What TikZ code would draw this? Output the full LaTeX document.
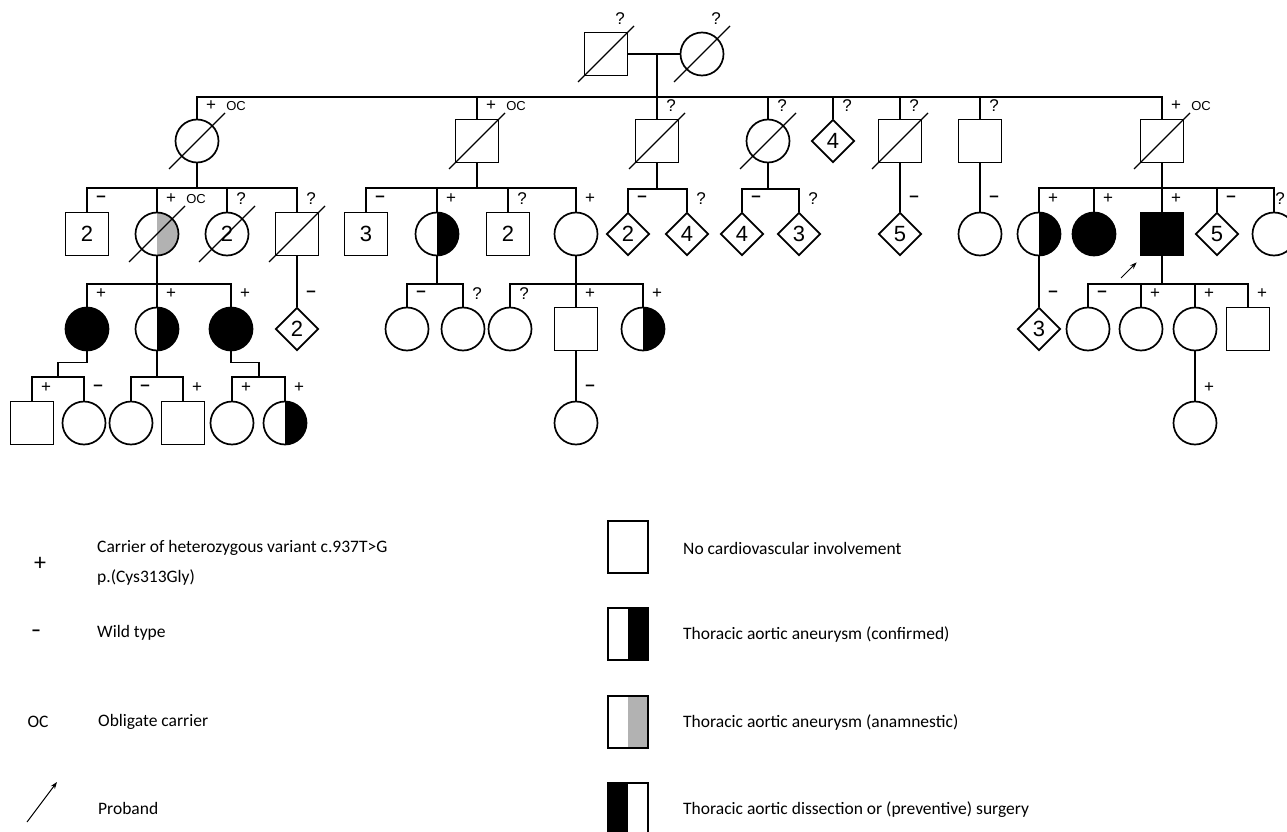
\documentclass[tikz,border=0pt]{standalone}
\usepackage{fontspec}
\setmainfont{Carlito}
\newfontfamily\pedfont{Liberation Sans}
\usetikzlibrary{shapes.geometric,arrows.meta}

\newcommand{\numfont}{\pedfont\fontsize{22}{22}\selectfont}
\newcommand{\tagfont}{\pedfont\fontsize{17}{17}\selectfont}
\newcommand{\ocfont}{\pedfont\fontsize{13}{13}\selectfont}
\newcommand{\wt}{\textbf{\textendash}}

\tikzset{
  person/.style={draw, line width=1.7pt, inner sep=0pt, minimum size=43pt, fill=white, font=\numfont},
  male/.style={person, rectangle},
  female/.style={person, circle},
  sexunk/.style={person, diamond},
  affected/.style={fill=black},
  tahalf/.style={path picture={\fill[black] (path picture bounding box.north) rectangle (path picture bounding box.south east);}},
  anahalf/.style={path picture={\fill[black!30] (path picture bounding box.north) rectangle (path picture bounding box.south east);}},
  dishalf/.style={path picture={\fill[black] (path picture bounding box.north west) rectangle (path picture bounding box.south);}},
  line/.style={line width=1.7pt},
  slash/.style={line width=1.2pt},
  tagtxt/.style={font=\tagfont, inner sep=0pt},
  octxt/.style={font=\ocfont, inner sep=0pt},
  keybox/.style={draw, line width=1.2pt, minimum width=40pt, minimum height=52pt, inner sep=0pt},
  keytxt/.style={anchor=west, inner sep=0pt, font=\fontsize{17.5}{21}\selectfont},
}

% deceased: slash through the symbol
\newcommand{\deceased}[1]{\draw[slash] ([shift={(-28,28)}]#1.center) -- ([shift={(28,-28)}]#1.center);}
% genotype above right of the symbol
\newcommand{\geno}[2]{\node[tagtxt] (#1t) at ([shift={(14,-13)}]#1.north) {#2};}
\newcommand{\obl}[1]{\node[octxt] (#1oc) at ([shift={(39,-13)}]#1.north) {OC};}

\begin{document}
\begin{tikzpicture}[x=1pt,y=-1pt]
\useasboundingbox (0,0) rectangle (1287,832);

% generation I
\node[male] (n1a) at (606,54) {};
\node[female] (n1b) at (702,54) {};
\draw[line] (n1a.east) -- (n1b.west);
\coordinate (c1) at (657,54);

% generation II
\node[female] (n2a) at (197,141) {};
\node[male] (n2b) at (477,141) {};
\node[male] (n2c) at (657,141) {};
\node[female] (n2d) at (768,141) {};
\node[sexunk] (n2e) at (833,141) {4};
\node[male] (n2f) at (900,141) {};
\node[male] (n2g) at (980,141) {};
\node[male] (n2h) at (1162,141) {};

\coordinate (s2) at (657,97);
\draw[line] (c1) -- (s2);
\draw[line] (n2a.north) |- (s2) -| (n2h.north);
\foreach \n in {b,c,d,e,f,g} \draw[line] (n2\n.north) -- (n2\n.north |- s2);

% generation III
\node[male] (n3a1) at (87,234) {2};
\node[female, anahalf] (n3a2) at (157,234) {};
\node[female] (n3a3) at (227,234) {2};
\node[male] (n3a4) at (297,234) {};

\node[male] (n3b1) at (366,234) {3};
\node[female, tahalf] (n3b2) at (437,234) {};
\node[male] (n3b3) at (508,234) {2};
\node[female] (n3b4) at (576,234) {};

\node[sexunk] (n3c1) at (628,234) {2};
\node[sexunk] (n3c2) at (687,234) {4};
\node[sexunk] (n3d1) at (742,234) {4};
\node[sexunk] (n3d2) at (799,234) {3};
\node[sexunk] (n3f1) at (900,234) {5};
\node[female] (n3g1) at (980,234) {};

\node[female, tahalf] (n3h1) at (1039,234) {};
\node[female, affected] (n3h2) at (1094,234) {};
\node[male, affected] (n3h3) at (1162,234) {};
\node[sexunk] (n3h4) at (1217,234) {5};
\node[female] (n3h5) at (1274,234) {};

\coordinate (s3a) at (197,188);
\draw[line] (n2a.south) -- (s3a);
\draw[line] (n3a1.north) |- (s3a) -| (n3a4.north);
\foreach \n in {2,3} \draw[line] (n3a\n.north) -- (n3a\n.north |- s3a);

\coordinate (s3b) at (477,188);
\draw[line] (n2b.south) -- (s3b);
\draw[line] (n3b1.north) |- (s3b) -| (n3b4.north);
\foreach \n in {2,3} \draw[line] (n3b\n.north) -- (n3b\n.north |- s3b);

\coordinate (s3c) at (657,189);
\draw[line] (n2c.south) -- (s3c);
\draw[line] (n3c1.north) |- (s3c) -| (n3c2.north);

\coordinate (s3d) at (768,189);
\draw[line] (n2d.south) -- (s3d);
\draw[line] (n3d1.north) |- (s3d) -| (n3d2.north);

\draw[line] (n2f.south) -- (n3f1.north);
\draw[line] (n2g.south) -- (n3g1.north);

\coordinate (s3h) at (1162,188);
\draw[line] (n2h.south) -- (s3h);
\draw[line] (n3h1.north) |- (s3h) -| (n3h5.north);
\foreach \n in {2,3,4} \draw[line] (n3h\n.north) -- (n3h\n.north |- s3h);

% generation IV
\node[female, affected] (n4a1) at (87,329) {};
\node[female, tahalf] (n4a2) at (157,329) {};
\node[female, affected] (n4a3) at (231,329) {};
\node[sexunk] (n4a4) at (297,329) {2};

\node[female] (n4b1) at (407,329) {};
\node[female] (n4b2) at (463,329) {};
\node[female] (n4b3) at (510,329) {};
\node[male] (n4b4) at (576,329) {};
\node[female, tahalf] (n4b5) at (643,329) {};

\node[sexunk] (n4h1) at (1039,329) {3};
\node[female] (n4h2) at (1088,329) {};
\node[female] (n4h3) at (1141,329) {};
\node[female] (n4h4) at (1195,329) {};
\node[male] (n4h5) at (1248,329) {};

\coordinate (s4a) at (157,284);
\draw[line] (n3a2.south) -- (s4a);
\draw[line] (n4a1.north) |- (s4a) -| (n4a3.north);
\draw[line] (n4a2.north) -- (s4a);
\draw[line] (n3a4.south) -- (n4a4.north);

\coordinate (s4b) at (437,284);
\draw[line] (n3b2.south) -- (s4b);
\draw[line] (n4b1.north) |- (s4b) -| (n4b2.north);

\coordinate (s4c) at (576,284);
\draw[line] (n3b4.south) -- (s4c);
\draw[line] (n4b3.north) |- (s4c) -| (n4b5.north);
\draw[line] (n4b4.north) -- (s4c);

\draw[line] (n3h1.south) -- (n4h1.north);

\coordinate (s4h) at (1162,284);
\draw[line] (n3h3.south) -- (s4h);
\draw[line] (n4h2.north) |- (s4h) -| (n4h5.north);
\foreach \n in {3,4} \draw[line] (n4h\n.north) -- (n4h\n.north |- s4h);

% generation V
\node[male] (n5a1) at (32,423) {};
\node[female] (n5a2) at (84,423) {};
\node[female] (n5a3) at (131,423) {};
\node[male] (n5a4) at (183,423) {};
\node[female] (n5a5) at (232,423) {};
\node[female, tahalf] (n5a6) at (285,423) {};
\node[female] (n5b1) at (576,423) {};
\node[female] (n5h1) at (1195,423) {};

\coordinate (s5a) at (58,377);
\draw[line] (n4a1.south) -- ++(0,11) -| (s5a);
\draw[line] (n5a1.north) |- (s5a) -| (n5a2.north);

\coordinate (s5b) at (157,377);
\draw[line] (n4a2.south) -- (s5b);
\draw[line] (n5a3.north) |- (s5b) -| (n5a4.north);

\coordinate (s5c) at (259,377);
\draw[line] (n4a3.south) -- ++(0,11) -| (s5c);
\draw[line] (n5a5.north) |- (s5c) -| (n5a6.north);

\draw[line] (n4b4.south) -- (n5b1.north);
\draw[line] (n4h4.south) -- (n5h1.north);

% deceased
\foreach \n in {n1a,n1b,n2a,n2b,n2c,n2d,n2f,n2h,n3a2,n3a3,n3a4} {\deceased{\n}}

% genotypes
\geno{n1a}{?} \geno{n1b}{?}
\geno{n2a}{+} \obl{n2a} \geno{n2b}{+} \obl{n2b} \geno{n2c}{?} \geno{n2d}{?}
\geno{n2e}{?} \geno{n2f}{?} \geno{n2g}{?} \geno{n2h}{+} \obl{n2h}
\geno{n3a1}{\wt} \geno{n3a2}{+} \obl{n3a2} \geno{n3a3}{?} \geno{n3a4}{?}
\geno{n3b1}{\wt} \geno{n3b2}{+} \geno{n3b3}{?} \geno{n3b4}{+}
\geno{n3c1}{\wt} \geno{n3c2}{?} \geno{n3d1}{\wt} \geno{n3d2}{?}
\geno{n3f1}{\wt} \geno{n3g1}{\wt}
\geno{n3h1}{+} \geno{n3h2}{+} \geno{n3h3}{+} \geno{n3h4}{\wt}
\node[tagtxt] (n3h5t) at ([shift={(6,-13)}]n3h5.north) {?};
\geno{n4a1}{+} \geno{n4a2}{+} \geno{n4a3}{+} \geno{n4a4}{\wt}
\geno{n4b1}{\wt} \geno{n4b2}{?} \geno{n4b3}{?} \geno{n4b4}{+} \geno{n4b5}{+}
\geno{n4h1}{\wt} \geno{n4h2}{\wt} \geno{n4h3}{+} \geno{n4h4}{+} \geno{n4h5}{+}
\geno{n5a1}{+} \geno{n5a2}{\wt} \geno{n5a3}{\wt} \geno{n5a4}{+}
\geno{n5a5}{+} \geno{n5a6}{+} \geno{n5b1}{\wt} \geno{n5h1}{+}

% proband
\coordinate (pb) at (1121,278);
\draw[line width=1pt, -{Stealth[length=7pt,width=5pt]}] (pb) -- ([shift={(-3,6)}]n3h3.south west);

% key
\node[font=\fontsize{24}{24}\selectfont] (k1) at (40,564) {+};
\node[keytxt] (k1t) at (97,548) {Carrier of heterozygous variant c.937T>G};
\node[keytxt] (k1u) at (97,578) {p.(Cys313Gly)};
\node[font=\fontsize{20}{20}\selectfont] (k2) at (36,633) {\wt};
\node[keytxt] (k2t) at (97,633) {Wild type};
\node[font=\fontsize{17.5}{17.5}\selectfont] (k3) at (38,722) {OC};
\node[keytxt] (k3t) at (98,722) {Obligate carrier};
\coordinate (k4a) at (27,822);
\coordinate (k4b) at (57,782);
\draw[line width=1pt, -{Stealth[length=7pt,width=5pt]}] (k4a) -- (k4b);
\node[keytxt] (k4t) at (98,808) {Proband};

\node[keybox] (b1) at (628,547) {};
\node[keytxt] (b1t) at (683,548) {No cardiovascular involvement};
\node[keybox, tahalf] (b2) at (628,634) {};
\node[keytxt] (b2t) at (683,635) {Thoracic aortic aneurysm (confirmed)};
\node[keybox, anahalf] (b3) at (628,722) {};
\node[keytxt] (b3t) at (683,723) {Thoracic aortic aneurysm (anamnestic)};
\node[keybox, dishalf] (b4) at (628,809) {};
\node[keytxt] (b4t) at (683,810) {Thoracic aortic dissection or (preventive) surgery};
\end{tikzpicture}
\end{document}
